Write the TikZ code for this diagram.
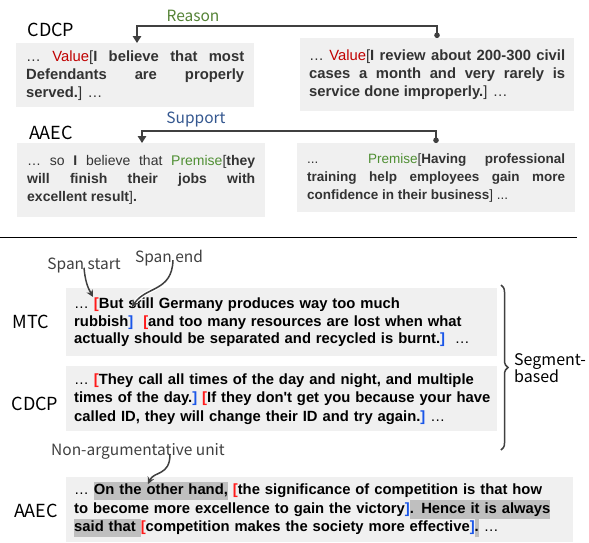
\documentclass[tikz,border=0pt]{standalone}
\usepackage{fontspec}
\setmainfont{Liberation Sans}
\newfontfamily\lblfont{Noto Sans CJK JP}
\usepackage{xcolor}
\usetikzlibrary{arrows.meta,positioning,decorations.pathreplacing}

\definecolor{boxgray}{HTML}{F0F0F0}
\definecolor{txtgray}{HTML}{333333}
\definecolor{lnkgray}{HTML}{404040}
\definecolor{hlgray}{HTML}{BFBFBF}
\definecolor{valred}{HTML}{C00000}
\definecolor{premgreen}{HTML}{4F8F33}
\definecolor{rsngreen}{HTML}{548235}
\definecolor{supblue}{HTML}{34578F}
\definecolor{brred}{HTML}{FF1A1A}
\definecolor{brblue}{HTML}{1A56E8}

\newcommand{\rb}{\textcolor{brred}{[}}
\newcommand{\bb}{\textcolor{brblue}{]}}
\newcommand{\elp}{{\mdseries …}}
\newcommand{\hlt}[1]{{\setlength{\fboxsep}{0pt}\colorbox{hlgray}{\strut #1}}}
\newcommand{\val}{\textcolor{valred}{Value}}
\newcommand{\prem}{\textcolor{premgreen}{Premise}}

\tikzset{
  txtbox/.style={fill=boxgray, anchor=north west, inner ysep=0pt, align=justify, text=txtgray},
  segbox/.style={fill=boxgray, anchor=north west, inner xsep=8pt, inner ysep=0pt, align=left,
    text width=415pt, font=\fontsize{14.8}{18.5}\selectfont\bfseries},
  lbl/.style={font=\lblfont\fontsize{18}{20}\selectfont, inner sep=0pt},
  smalllbl/.style={font=\lblfont\fontsize{15.5}{17}\selectfont, inner sep=0pt},
  relarrow/.style={draw=lnkgray, line width=1.5pt, {Circle[length=5.5pt]}-{Triangle[width=8.5pt,length=7pt]}},
  pointer/.style={draw=lnkgray, line width=1.5pt, -{Stealth[length=7pt,width=7pt]}},
}

\begin{document}
\begin{tikzpicture}[x=1pt,y=-1pt]
\useasboundingbox (0,0) rectangle (589,542);

% relation examples
\node[lbl] (tcdcp) at (51,30) {CDCP};
\node[txtbox, font=\fontsize{14.8}{18}\selectfont, inner xsep=10pt, text width=218pt, minimum height=64pt] (ca1) at (16,43)
  {… \val[\textbf{I believe that most\linebreak Defendants are properly\linebreak served.}] …};
\node[txtbox, font=\fontsize{14.8}{18}\selectfont, inner xsep=9pt, text width=256pt, minimum height=73pt] (ca2) at (300,38)
  {… \val[\textbf{I review about 200-300 civil\linebreak cases a month and very rarely is\linebreak service done improperly.}] …};
\node[smalllbl, text=rsngreen] (rsn) at (193,16) {Reason};
\draw[relarrow] ([xshift=137pt]ca2.north west) -- ++(0,-12) -| ([xshift=121pt]ca1.north west);

\node[lbl] (taaec) at (51,133) {AAEC};
\node[txtbox, font=\fontsize{14}{18}\selectfont, inner xsep=10pt, text width=228pt, minimum height=74pt] (ae1) at (17,143)
  {… so \textbf{I} believe that \prem[\textbf{they\linebreak will finish their jobs with\linebreak excellent result}]\textbf{.}};
\node[txtbox, font=\fontsize{13.5}{18}\selectfont, inner xsep=10pt, text width=258pt, minimum height=69pt] (ae2) at (297,143)
  {... \prem[\textbf{Having professional\linebreak training help employees gain more\linebreak confidence in their business}] ...};
\node[smalllbl, text=supblue] (sup) at (196,119) {Support};
\draw[relarrow] ([xshift=139pt]ae2.north west) -- ++(0,-12) -| ([xshift=125pt]ae1.north west);

\draw[line width=1pt] (0,237) -- (577,237);

% segment examples
\node[lbl] (lmtc) at (31,322) {MTC};
\node[segbox, font=\fontsize{14.8}{17.5}\selectfont\bfseries, minimum height=68pt] (smtc) at (66,288)
  {\elp\ \rb But still Germany produces way too much\\
   rubbish\bb\ \ \rb and too many resources are lost when what\\
   actually should be separated and recycled is burnt.\bb\ \ \elp};
\node[lbl] (lcdcp) at (35,404) {CDCP};
\node[segbox, minimum height=65pt] (scdcp) at (66,366)
  {\elp\ \rb They call all times of the day and night, and multiple\\
   \mbox{times of the day.\bb\ \rb If they don\textquotesingle t get you because your have}\\
   called ID, they will change their ID and try again.\bb\ \elp};
\node[lbl] (laaec) at (36,511) {AAEC};
\node[segbox, text width=491pt, minimum height=65pt] (saaec) at (66,477)
  {\elp\ \hlt{On the other hand,} \rb the significance of competition is that how\\
   to become more excellence to gain the victory\bb\hlt{. Hence it is always}\\
   \hlt{said that\ }\rb competition makes the society more effective\bb\hlt{.} \elp};

\node[smalllbl, text=lnkgray] (sstart) at (84,265) {Span start};
\node[smalllbl, text=lnkgray] (send) at (169,258) {Span end};
\node[smalllbl, text=lnkgray] (nonarg) at (138,451) {Non-argumentative unit};
\coordinate (tipst) at (93,297);
\coordinate (tipend) at (132,307);
\coordinate (tipna) at (148,484);
\draw[pointer] ([yshift=5pt]sstart.south) to[bend right=12] (tipst);
\draw[pointer, preaction={draw=white, line width=4pt}] ([xshift=4pt,yshift=6pt]send.south) .. controls (172,292) and (146,286) .. (tipend);
\draw[pointer] ([xshift=32pt,yshift=5pt]nonarg.south) .. controls (170,476) and (154,471) .. (tipna);

\draw[lnkgray, line width=1.5pt, decorate, decoration={brace, amplitude=7pt}] (501,285) -- (501,450);
\node[smalllbl, font=\lblfont\fontsize{16}{17}\selectfont, align=left, anchor=west] (segb) at (514,368) {Segment-\\based};
\end{tikzpicture}
\end{document}
